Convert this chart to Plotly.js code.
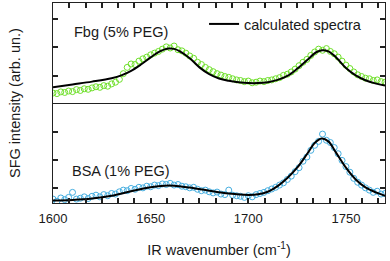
<!DOCTYPE html>
<html>
<head>
<meta charset="utf-8">
<script src="https://cdn.plot.ly/plotly-3.0.1.min.js"></script>
<style>html,body{margin:0;padding:0;background:#fff;}#chart{width:390px;height:261px;}</style>
</head>
<body>
<div id="chart"></div>
<script>
// Measured wavenumbers (cm-1)
const wavenumber = [1600,1602,1604,1606,1608,1610,1612,1614,1616,1618,1620,1622,1624,1626,1628,1630,1632,1634,1636,1638,1640,1642,1644,1646,1648,1650,1652,1654,1656,1658,1660,1662,1664,1666,1668,1670,1672,1674,1676,1678,1680,1682,1684,1686,1688,1690,1692,1694,1696,1698,1700,1702,1704,1706,1708,1710,1712,1714,1716,1718,1720,1722,1724,1726,1728,1730,1732,1734,1736,1738,1740,1742,1744,1746,1748,1750,1752,1754,1756,1758,1760,1762,1764,1766,1768,1770];

// Fbg (5% PEG) measured SFG intensity (arb. un.)
const fbgData = [0.40,0.38,0.44,0.42,0.47,0.45,0.52,0.49,0.55,0.53,0.58,0.62,0.60,0.66,0.64,0.72,0.78,0.88,1.08,1.30,1.42,1.40,1.52,1.60,1.66,1.74,1.80,1.86,1.94,2.02,1.98,2.05,1.92,1.88,1.80,1.70,1.62,1.48,1.40,1.30,1.22,1.15,1.08,1.03,0.98,0.95,0.90,0.86,0.84,0.80,0.82,0.76,0.78,0.82,0.80,0.84,0.86,0.90,0.94,1.02,1.06,1.14,1.24,1.36,1.48,1.58,1.72,1.84,1.94,1.90,1.96,1.86,1.78,1.66,1.52,1.38,1.26,1.14,1.04,0.98,0.92,0.90,0.84,0.86,0.80,0.78];

// BSA (1% PEG) measured SFG intensity (arb. un.)
const bsaData = [0.60,0.52,0.64,0.58,0.66,0.84,0.60,0.63,0.68,0.62,0.70,0.74,0.68,0.76,0.72,0.80,0.78,0.86,0.92,0.90,0.98,0.95,1.02,1.00,1.06,1.04,1.10,1.08,1.14,1.12,1.16,1.10,1.12,1.06,1.04,1.00,1.02,0.95,0.90,0.92,0.86,0.82,0.85,0.78,0.76,0.92,0.74,0.72,0.70,0.66,0.72,0.68,0.76,0.80,0.84,0.90,0.96,1.02,1.10,1.18,1.30,1.42,1.58,1.72,1.95,2.10,2.34,2.52,2.66,2.92,2.70,2.62,2.44,2.22,1.98,1.76,1.56,1.34,1.20,1.10,1.00,0.92,0.84,0.88,0.78,0.80];

// Calculated spectra
const fbgFitX = [1600,1610,1620,1630,1635,1640,1645,1650,1655,1659,1662,1665,1670,1675,1680,1685,1690,1695,1700,1705,1710,1715,1720,1725,1730,1735,1738,1741,1745,1750,1755,1760,1765,1770];
const fbgFitY = [0.60,0.70,0.80,0.92,1.02,1.18,1.40,1.65,1.87,1.96,1.95,1.86,1.62,1.30,1.06,0.91,0.83,0.78,0.75,0.75,0.78,0.86,1.00,1.25,1.55,1.84,1.905,1.86,1.65,1.28,1.02,0.85,0.74,0.66];
const bsaFitX = [1600,1610,1620,1630,1640,1650,1657,1662,1670,1680,1690,1700,1705,1710,1715,1720,1725,1730,1734,1737.5,1741,1745,1750,1755,1760,1765,1770];
const bsaFitY = [0.55,0.57,0.62,0.72,0.88,1.02,1.08,1.08,1.01,0.90,0.80,0.75,0.77,0.86,1.06,1.35,1.72,2.20,2.60,2.76,2.66,2.25,1.72,1.30,1.02,0.85,0.72];

const xTickStart = 1600, xTickStep = 50, xMinorPerMajor = 6, xEnd = 1770;
const labels = ['Fbg (5% PEG)','BSA (1% PEG)'];

const FONT = 'Liberation Sans, Arial, sans-serif';
const AX = '#222222';
const TXT = '#1a1a1a';

// tick positions (axis decoration): 6 intervals per 50 cm-1, labels only on multiples of 50
const tickVals = [], tickText = [];
for (let k = 0; xTickStart + k * xTickStep / xMinorPerMajor <= xEnd + 1e-9; k++) {
  tickVals.push(xTickStart + k * xTickStep / xMinorPerMajor);
  tickText.push(k % xMinorPerMajor === 0 ? String(xTickStart + (k / xMinorPerMajor) * xTickStep) : '');
}

const traces = [
  {x: wavenumber, y: fbgData, xaxis:'x2', yaxis:'y2', mode:'markers', type:'scatter', showlegend:false,
   marker:{symbol:'circle-open', size:6, color:'#6fe02a', line:{width:1, color:'#6fe02a'}}},
  {x: fbgFitX, y: fbgFitY, xaxis:'x2', yaxis:'y2', mode:'lines', type:'scatter', name:'calculated spectra', showlegend:true,
   line:{color:'#000', width:2, shape:'spline', smoothing:1}},
  {x: wavenumber, y: bsaData, xaxis:'x', yaxis:'y', mode:'markers', type:'scatter', showlegend:false,
   marker:{symbol:'circle-open', size:6, color:'#45aee0', line:{width:1, color:'#45aee0'}}},
  {x: bsaFitX, y: bsaFitY, xaxis:'x', yaxis:'y', mode:'lines', type:'scatter', showlegend:false,
   line:{color:'#000', width:2, shape:'spline', smoothing:1}}
];

const tickStyle = {ticks:'inside', ticklen:5, tickwidth:1.5, tickcolor:AX};

const layout = {
  width:390, height:261,
  margin:{l:53, r:5, t:3, b:58},
  paper_bgcolor:'#fff', plot_bgcolor:'rgba(0,0,0,0)',
  font:{family:FONT, size:14.5, color:TXT},
  showlegend:true,
  legend:{x:0.455, y:0.975, xanchor:'left', yanchor:'top', bgcolor:'rgba(0,0,0,0)', font:{size:14.5, family:FONT, color:TXT}, itemwidth:30},
  xaxis:Object.assign({anchor:'y', range:[1600,xEnd], tickmode:'array', tickvals:tickVals, ticktext:tickText,
         showline:true, linecolor:AX, linewidth:1, mirror:false, showgrid:false, zeroline:false, ticklabelstandoff:3,
         tickfont:{size:13, family:FONT, color:TXT},
         title:{text:'IR wavenumber (cm<sup>-1</sup>)', font:{size:14.5, family:FONT, color:TXT}, standoff:20}}, tickStyle),
  xaxis2:Object.assign({anchor:'y2', range:[1600,xEnd], side:'top', tickmode:'array', tickvals:tickVals, ticktext:tickText, showticklabels:false,
          showline:true, linecolor:AX, linewidth:1, mirror:true, showgrid:false, zeroline:false}, tickStyle),
  yaxis:Object.assign({anchor:'x', domain:[0,0.5], range:[0.46,4.03], tickmode:'array', tickvals:[1,2,3], ticktext:['','',''],
         showline:true, linecolor:AX, linewidth:1, mirror:'ticks', showgrid:false, zeroline:false}, tickStyle),
  yaxis2:Object.assign({anchor:'x2', domain:[0.5,1], range:[0.05,3.56], tickmode:'array', tickvals:[1,2,3], ticktext:['','',''],
          showline:true, linecolor:AX, linewidth:1, mirror:'ticks', showgrid:false, zeroline:false}, tickStyle),
  annotations:[
    {xref:'paper', yref:'paper', x:0.057, y:0.855, xanchor:'left', yanchor:'middle', text:labels[0], showarrow:false, font:{size:14.5, family:FONT, color:TXT}},
    {xref:'paper', yref:'paper', x:0.051, y:0.16, xanchor:'left', yanchor:'middle', text:labels[1], showarrow:false, font:{size:14.5, family:FONT, color:TXT}},
    {xref:'paper', yref:'paper', x:-0.1145, y:0.5, xanchor:'center', yanchor:'middle', textangle:-90, text:'SFG intensity (arb. un.)', showarrow:false, font:{size:14.5, family:FONT, color:TXT}}
  ]
};

Plotly.newPlot('chart', traces, layout, {displayModeBar:false});
</script>
</body>
</html>
